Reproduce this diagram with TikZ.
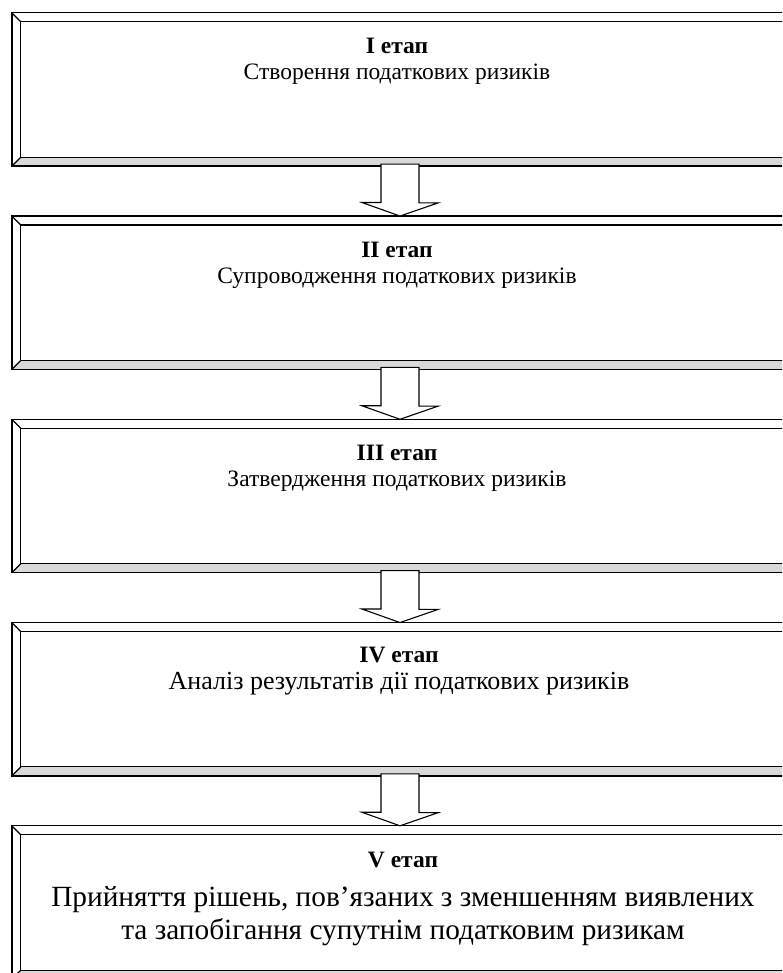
\documentclass[tikz,border=0pt]{standalone}
\usepackage{fontspec}
\setmainfont{Liberation Serif}
\usetikzlibrary{calc}
\begin{document}
\begin{tikzpicture}[x=1pt, y=1pt,
    stage/.style={rectangle, fill=white, minimum width=784pt, minimum height=153pt, inner sep=0pt},
    frameline/.style={line width=1.4pt},
    bevelline/.style={line width=1.1pt},
    stagetext/.style={align=center, font=\fontsize{23.5}{26}\selectfont},
    blockarrow/.style={draw, line width=1.1pt, fill=white, line join=miter}
]
    \clip (0,0) rectangle (782,973);

    % Stages
    \node[stage] (s1) at (404,883.5) {};
    \node[stage] (s2) at (404,680.25) {};
    \node[stage] (s3) at (404,477) {};
    \node[stage] (s4) at (404,273.75) {};
    \node[stage] (s5) at (404,70.5) {};

    % Bevelled frames
    \foreach \s in {s1,s2,s3,s4,s5} {
        \fill[black!15] (\s.south west) -- (\s.south east) -- ($(\s.south east)+(-9,9)$) -- ($(\s.south west)+(9,9)$) -- cycle;
        \fill[black!40] (\s.south east) -- (\s.north east) -- ($(\s.north east)+(-9,-9)$) -- ($(\s.south east)+(-9,9)$) -- cycle;
        \draw[bevelline] ($(\s.south west)+(9,9)$) rectangle ($(\s.north east)+(-9,-9)$);
        \draw[bevelline] (\s.south west) -- ++(9,9) (\s.north west) -- ++(9,-9)
            (\s.south east) -- ++(-9,9) (\s.north east) -- ++(-9,-9);
        \draw[frameline] (\s.south west) rectangle (\s.north east);
    }

    % Texts
    \node[stagetext] (t1) at ($(s1.north)+(-7,-49)$) {\textbf{I етап}\\Створення податкових ризиків};
    \node[stagetext] (t2) at ($(s2.north)+(-7,-49)$) {\textbf{II етап}\\Супроводження податкових ризиків};
    \node[stagetext] (t3) at ($(s3.north)+(-7,-49)$) {\textbf{III етап}\\Затвердження податкових ризиків};
    \node[stagetext, font=\fontsize{26}{27}\selectfont] (t4) at ($(s4.north)+(-5,-49)$)
        {{\fontsize{23.5}{26}\selectfont\textbf{IV етап}}\\Аналіз результатів дії податкових ризиків};
    \node[stagetext, font=\fontsize{29.3}{33}\selectfont] (t5) at ($(s5.north)+(-1,-73)$)
        {{\fontsize{23.5}{26}\selectfont\textbf{V етап}}\\[6pt]Прийняття рішень, пов’язаних з зменшенням виявлених\\та запобігання супутнім податковим ризикам};

    % Arrows
    \foreach \a/\b in {s1/s2,s2/s3,s3/s4,s4/s5} {
        \draw[blockarrow] ($(\a.south)+(-23,2)$) -- ++(38,0) -- ++(0,-38.75) -- ++(19,0)
            -- ($(\b.north)+(-4,0)$) -- ++(-38,13.5) -- ++(19,0) -- cycle;
    }
\end{tikzpicture}
\end{document}
